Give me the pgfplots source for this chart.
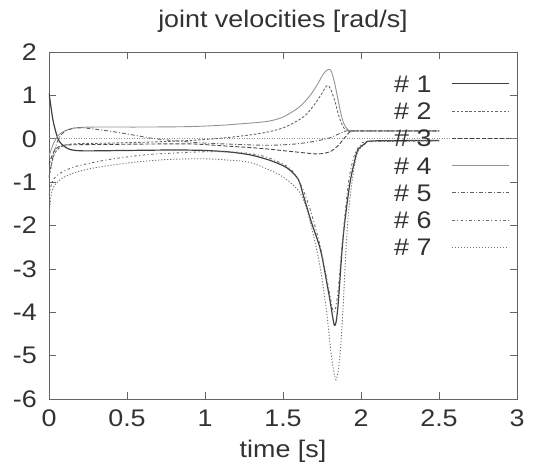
\documentclass[border=0pt]{standalone}
\usepackage{fontspec}
\setmainfont{Liberation Sans}[FakeStretch=1.12]
\usepackage{pgfplots}
\pgfplotsset{compat=1.18}
\usetikzlibrary{calc}

\definecolor{ink}{RGB}{50,50,50}
\definecolor{frame}{RGB}{100,100,100}

\begin{document}
\fontsize{24}{28}\selectfont
\begin{tikzpicture}
\begin{axis}[
  name=ax,
  scale only axis,
  width=468pt, height=347pt,
  xmin=0, xmax=3, ymin=-6, ymax=2,
  xtick={0,0.5,1,1.5,2,2.5,3},
  xticklabels={0,0.5,1,1.5,2,2.5,3},
  ytick={-6,-5,-4,-3,-2,-1,0,1,2},
  yticklabels={-6,-5,-4,-3,-2,-1,0,1,2},
  tick align=inside,
  major tick length=7pt,
  tick style={frame, line width=0.6pt},
  axis line style={frame, line width=0.8pt},
  every tick label/.append style={ink},
  xticklabel style={yshift=-3pt},
  yticklabel style={xshift=-4pt},
  title={joint velocities [rad/s]},
  title style={ink, yshift=5pt},
  xlabel={time [s]},
  xlabel style={ink, yshift=3pt},
  legend plot pos=right,
  legend image code/.code={\draw[#1] (0pt,0pt) -- (57pt,0pt);},
  legend style={at={(axis description cs:1,1)}, anchor=north east,
    xshift=-7pt, yshift=-23pt, draw=none, fill=none, inner sep=0pt,
    text=ink, column sep=20pt, row sep=10.3pt,
    nodes={inner sep=0pt, text height=17pt, text depth=0pt}},
  legend cell align=right,
]
% zero axis
\addplot[frame!70, line width=0.5pt, dash pattern=on 1pt off 1.5pt, forget plot]
  coordinates {(0,0)(3,0)};

% #1 solid dark
\addplot[black!75, line width=1.2pt, smooth, tension=0.5] coordinates {
(0,1.05)(0.01,0.8)(0.02,0.55)(0.03,0.35)(0.05,0.08)(0.07,-0.08)(0.1,-0.18)
(0.13,-0.24)(0.17,-0.27)(0.25,-0.28)(0.5,-0.27)(0.8,-0.26)(1.0,-0.27)
(1.17,-0.31)(1.3,-0.38)(1.41,-0.49)(1.5,-0.62)(1.55,-0.74)(1.6,-0.95)
(1.63,-1.3)(1.68,-1.9)(1.74,-2.56)(1.78,-3.3)(1.80,-3.7)(1.83,-4.3)
(1.85,-3.95)(1.88,-2.5)(1.9,-1.8)(1.93,-1.0)(1.96,-0.5)(1.98,-0.26)
(2.03,-0.1)(2.08,-0.05)(2.5,-0.04)};
\addlegendentry{\# 1}

% #2 short dashes
\addplot[black!60, line width=0.9pt, dash pattern=on 2.5pt off 1.8pt, smooth, tension=0.5] coordinates {
(0,-0.9)(0.03,-0.4)(0.07,-0.2)(0.15,-0.12)(0.4,-0.1)(0.7,-0.07)(0.95,-0.03)
(1.15,0.03)(1.35,0.12)(1.5,0.25)(1.63,0.5)(1.7,0.78)(1.75,1.05)(1.78,1.22)
(1.8,1.18)(1.83,0.9)(1.86,0.5)(1.89,0.25)(1.92,0.19)(1.96,0.18)(2.5,0.18)};
\addlegendentry{\# 2}

% #3 long dashes
\addplot[black!72, line width=0.9pt, dash pattern=on 4pt off 2pt, smooth, tension=0.5] coordinates {
(0,-0.6)(0.03,-0.3)(0.07,-0.17)(0.15,-0.14)(0.4,-0.13)(0.7,-0.12)(0.92,-0.12)
(1.1,-0.16)(1.35,-0.22)(1.57,-0.3)(1.72,-0.35)(1.8,-0.3)(1.85,-0.17)
(1.89,0.0)(1.93,0.16)(1.96,0.18)(2.5,0.18)};
\addlegendentry{\# 3}

% #4 solid light
\addplot[black!42, line width=0.9pt, smooth, tension=0.5] coordinates {
(0,-0.4)(0.03,-0.1)(0.06,0.08)(0.1,0.18)(0.15,0.24)(0.2,0.26)(0.3,0.27)
(0.6,0.27)(0.9,0.28)(1.1,0.31)(1.25,0.35)(1.4,0.4)(1.5,0.5)(1.6,0.72)
(1.67,0.98)(1.72,1.25)(1.76,1.5)(1.79,1.6)(1.81,1.55)(1.83,1.3)(1.85,0.95)
(1.87,0.6)(1.89,0.35)(1.92,0.2)(1.96,0.18)(2.5,0.18)};
\addlegendentry{\# 4}

% #5 dash dot
\addplot[black!62, line width=0.9pt, dash pattern=on 4pt off 2pt on 1pt off 2pt, smooth, tension=0.5] coordinates {
(0,-0.9)(0.02,-0.5)(0.05,-0.1)(0.08,0.1)(0.12,0.2)(0.18,0.25)(0.25,0.24)
(0.4,0.17)(0.55,0.08)(0.68,0.0)(0.85,-0.06)(1.0,-0.1)(1.2,-0.13)(1.4,-0.15)
(1.55,-0.13)(1.65,-0.09)(1.73,-0.04)(1.8,0.02)(1.85,0.1)(1.9,0.17)
(1.94,0.18)(2.5,0.18)};
\addlegendentry{\# 5}

% #6 sparse dash dot
\addplot[black!58, line width=0.9pt, dash pattern=on 2.5pt off 2.5pt on 1pt off 2.5pt, smooth, tension=0.5] coordinates {
(0,-1.3)(0.02,-1.0)(0.05,-0.85)(0.1,-0.74)(0.19,-0.62)(0.4,-0.47)(0.62,-0.37)
(0.8,-0.33)(1.0,-0.3)(1.2,-0.31)(1.35,-0.38)(1.45,-0.5)(1.55,-0.7)
(1.62,-1.1)(1.68,-1.7)(1.74,-2.5)(1.79,-3.4)(1.825,-4.0)(1.85,-3.6)
(1.88,-2.4)(1.92,-1.0)(1.96,-0.35)(2.0,-0.14)(2.05,-0.07)(2.5,-0.05)};
\addlegendentry{\# 6}

% #7 dotted
\addplot[black!55, line width=0.9pt, dash pattern=on 1.2pt off 1.8pt, smooth, tension=0.5] coordinates {
(0,-1.8)(0.01,-1.4)(0.02,-1.2)(0.04,-1.05)(0.08,-0.92)(0.15,-0.8)(0.25,-0.7)
(0.38,-0.62)(0.55,-0.54)(0.75,-0.48)(0.96,-0.46)(1.1,-0.48)(1.28,-0.54)
(1.4,-0.7)(1.5,-0.88)(1.6,-1.2)(1.65,-1.6)(1.7,-2.3)(1.74,-3.0)(1.78,-4.0)
(1.81,-5.0)(1.84,-5.56)(1.865,-5.0)(1.885,-3.9)(1.9,-2.8)(1.92,-1.7)
(1.95,-0.8)(1.98,-0.3)(2.03,-0.12)(2.08,-0.06)(2.5,-0.05)};
\addlegendentry{\# 7}
\end{axis}
\pgfresetboundingbox
\path[use as bounding box] ($(ax.south west)+(-49pt,-68pt)$) rectangle ($(ax.north east)+(24pt,52pt)$);
\end{tikzpicture}
\end{document}
